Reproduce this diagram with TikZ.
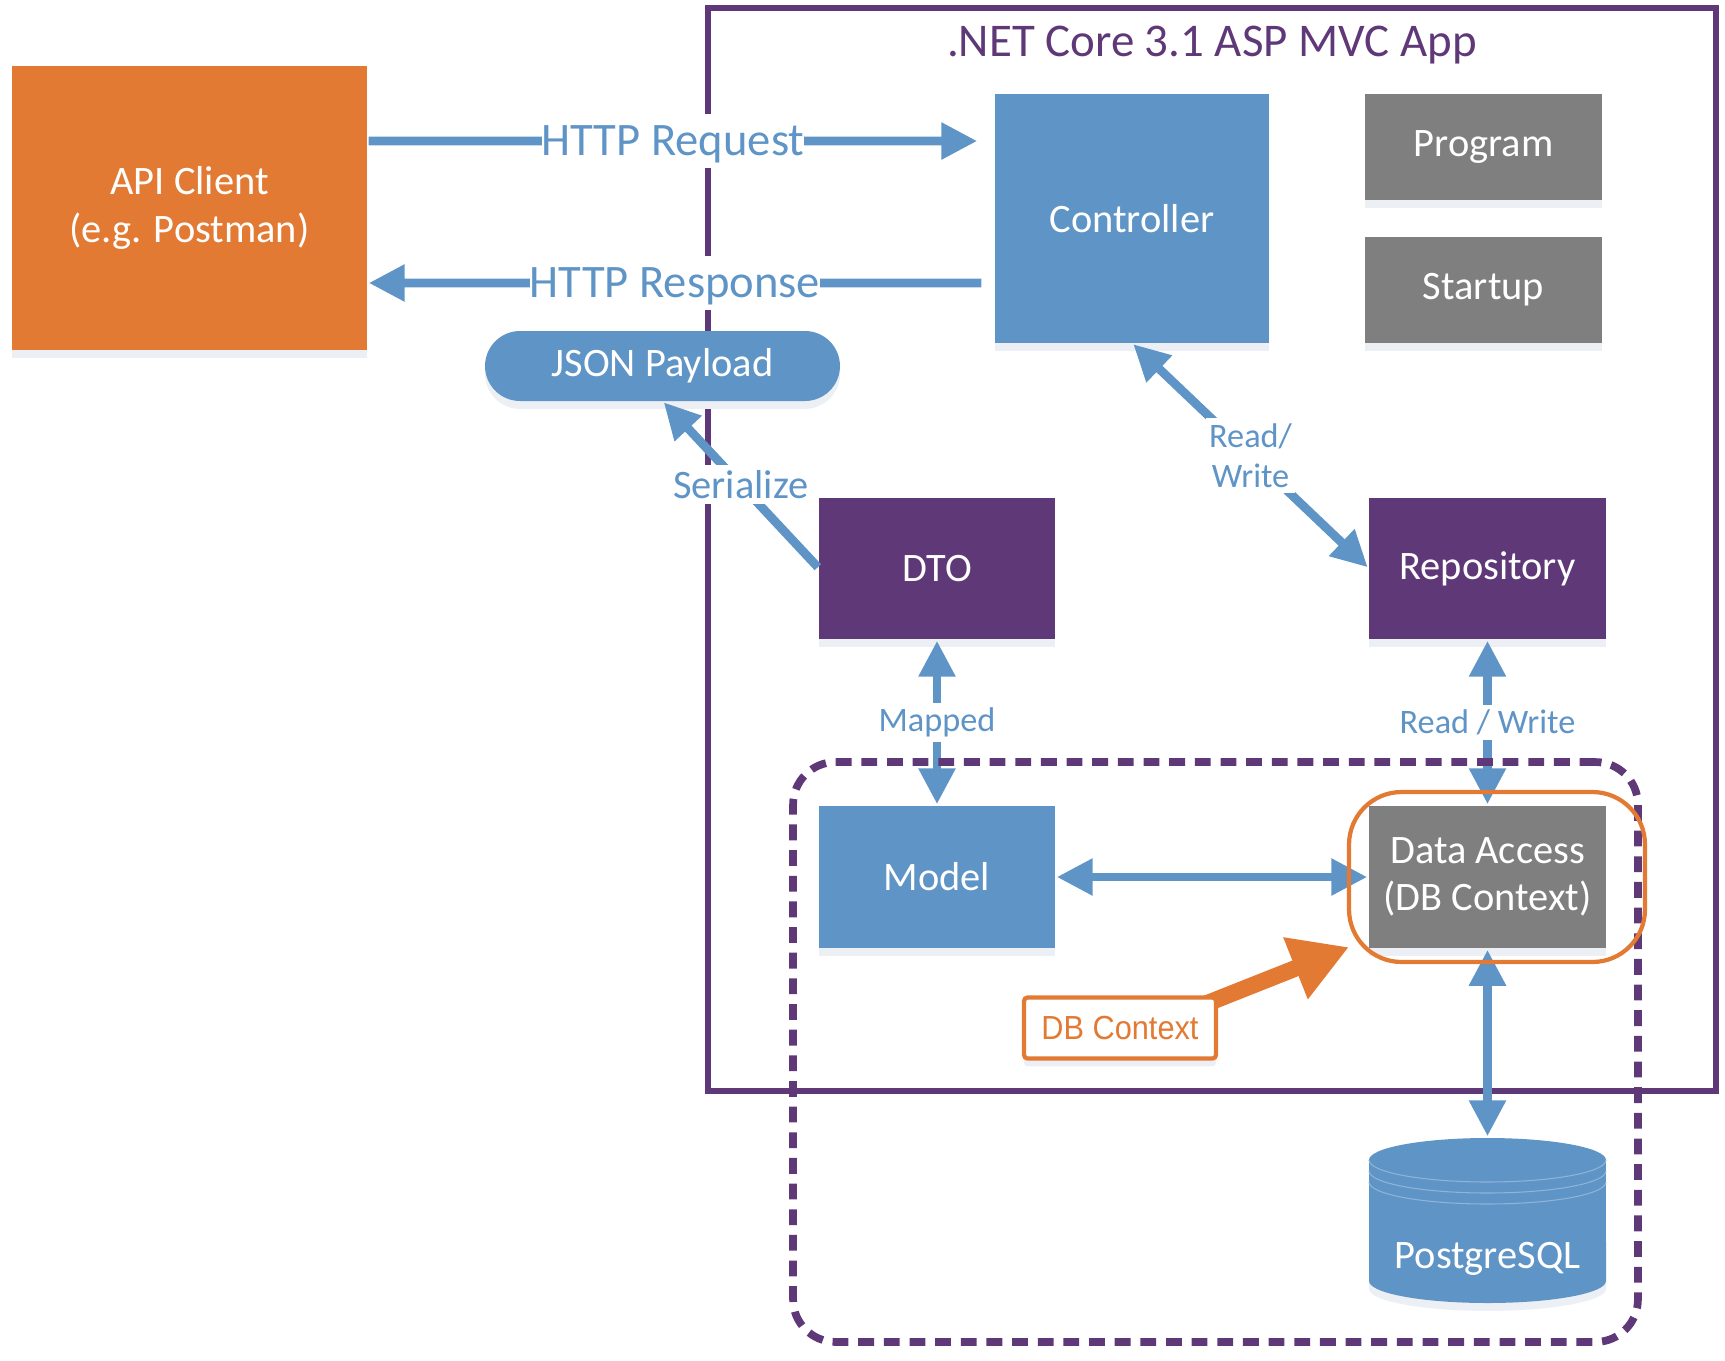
\documentclass[tikz,border=0pt]{standalone}
\usepackage{fontspec}
\setmainfont{Carlito}
\newfontfamily\ctxfont[FakeStretch=.92]{Liberation Sans}
\usetikzlibrary{arrows.meta,shadows}
\definecolor{appblue}{HTML}{5F94C6}
\definecolor{apporange}{HTML}{E37A34}
\definecolor{apppurple}{HTML}{5F3878}
\definecolor{appgray}{HTML}{7F7F7F}
\definecolor{softshade}{HTML}{ECEFF4}
\tikzset{
  softdrop/.style={drop shadow={shadow xshift=0pt,shadow yshift=-4.5pt,fill=softshade,opacity=1}},
  sqbox/.style={rectangle,inner sep=0pt,outer sep=0pt,text=white,align=center,softdrop,
    font=\fontsize{23}{27}\selectfont},
  bluebox/.style={sqbox,fill=appblue},
  graybox/.style={sqbox,fill=appgray},
  purplebox/.style={sqbox,fill=apppurple},
  conn/.style={draw=appblue,line width=5pt,shorten <=1pt,shorten >=1pt},
  onetip/.style={conn,-{Triangle[length=.72cm,width=.7cm]}},
  twotip/.style={conn,{Triangle[length=.72cm,width=.7cm]}-{Triangle[length=.72cm,width=.7cm]}},
  httplab/.style={fill=white,text=appblue,inner xsep=0pt,inner ysep=2pt,text height=21.5pt,text depth=5.5pt,
    font=\fontsize{26.5}{30}\selectfont},
  smalllab/.style={fill=white,text=appblue,inner xsep=2pt,inner ysep=3pt,align=center,
    font=\fontsize{19.5}{23}\selectfont}
}
\begin{document}
\begin{tikzpicture}[x=.02cm,y=-.02cm]
  \useasboundingbox (0,0) rectangle (1725,1360);

  % outer frame first, everything else sits on it
  \node[draw=apppurple,line width=3pt,minimum width=20.16cm,minimum height=21.66cm,inner sep=0pt] (app) at (1212,549.5) {};
  \node[text=apppurple,font=\fontsize{26.7}{31}\selectfont,inner sep=0pt] (apptitle) at (1212,45) {.NET Core 3.1 ASP MVC App};

  \node[sqbox,fill=apporange,minimum width=7.1cm,minimum height=5.68cm] (client) at (189.5,208) {API Client\\(e.g. Postman)};
  \node[bluebox,minimum width=5.48cm,minimum height=4.98cm] (ctrl) at (1132,218.5) {Controller};
  \node[graybox,minimum width=4.74cm,minimum height=2.12cm] (program) at (1483.5,147) {Program};
  \node[graybox,minimum width=4.74cm,minimum height=2.12cm] (startup) at (1483.5,290) {Startup};
  \node[bluebox,rounded corners=.7cm,minimum width=7.1cm,minimum height=1.4cm] (json) at (662.5,366) {JSON Payload};
  \node[purplebox,minimum width=4.72cm,minimum height=2.82cm] (dto) at (937,568.5) {DTO};
  \node[purplebox,minimum width=4.74cm,minimum height=2.82cm] (repo) at (1487.5,568.5) {Repository};
  \node[bluebox,minimum width=4.72cm,minimum height=2.84cm] (model) at (937,877) {Model};
  \node[graybox,minimum width=4.74cm,minimum height=2.84cm] (dal) at (1487.5,877) {Data Access\\(DB Context)};

  % cylinder by hand, db is only there for the arrow
  \fill[appblue,softdrop] (1369,1160) arc[start angle=180,end angle=0,x radius=2.37cm,y radius=.44cm]
    -- (1606,1281) arc[start angle=0,end angle=-180,x radius=2.37cm,y radius=.44cm] -- cycle;
  \foreach \y in {1160,1171,1182}
    \draw[white!30!appblue,line width=.6pt] (1369,\y) arc[start angle=180,end angle=360,x radius=2.37cm,y radius=.44cm];
  \node[minimum width=4.74cm,minimum height=3.3cm,inner sep=0pt,outer sep=0pt] (db) at (1487.5,1220.5) {};
  \node[text=white,font=\fontsize{23}{27}\selectfont,inner sep=0pt] (dblab) at (1487.5,1259) {PostgreSQL};

  \draw[onetip] ([yshift=1.34cm]client.east) -- ([yshift=1.55cm,xshift=-.32cm]ctrl.west)
    node[httplab,midway] (reqlab) {HTTP Request};
  \draw[onetip] ([yshift=-1.29cm,xshift=-.24cm]ctrl.west) -- ([yshift=-1.5cm]client.east)
    node[httplab,midway] (resplab) {HTTP Response};
  \draw[onetip] (dto.west) -- (json.south)
    node[smalllab,midway,font=\fontsize{23}{27}\selectfont] (serlab) {Serialize};
  \draw[twotip] (ctrl.south) -- (repo.west)
    node[smalllab,midway] (rwlab) {Read/\\Write};
  \draw[twotip] (dto.south) -- (model.north)
    node[smalllab,midway] (maplab) {Mapped};
  \draw[twotip] (repo.south) -- (dal.north)
    node[smalllab,midway] (rwlabb) {Read / Write};
  \draw[twotip] (model.east) -- (dal.west);
  \draw[twotip] (dal.south) -- (db.north);

  % dashed group and ring go over the arrows
  \node[draw=apppurple,line width=4.4pt,dash pattern=on 9pt off 5.6pt,rounded corners=.85cm,
    minimum width=16.9cm,minimum height=11.6cm,inner sep=0pt] (dbgroup) at (1215.5,1052) {};
  \node[draw=apporange,line width=2.4pt,rounded corners=1.05cm,
    minimum width=5.92cm,minimum height=3.4cm,inner sep=0pt] (ring) at (1497,877) {};

  \coordinate (ctxmid) at (1145,1028);
  \draw[draw=apporange,line width=9.5pt,-{Triangle[length=1.15cm,width=1.25cm]}] (ctxmid) -- ([shift={(2,-17)}]ring.south west);
  \node[draw=apporange,line width=2.4pt,fill=white,rounded corners=2pt,text=apporange,softdrop,inner sep=0pt,
    minimum width=3.84cm,minimum height=1.22cm,font=\ctxfont\fontsize{19}{22}\selectfont] (dbctx) at (1120,1028) {DB Context};
\end{tikzpicture}
\end{document}
